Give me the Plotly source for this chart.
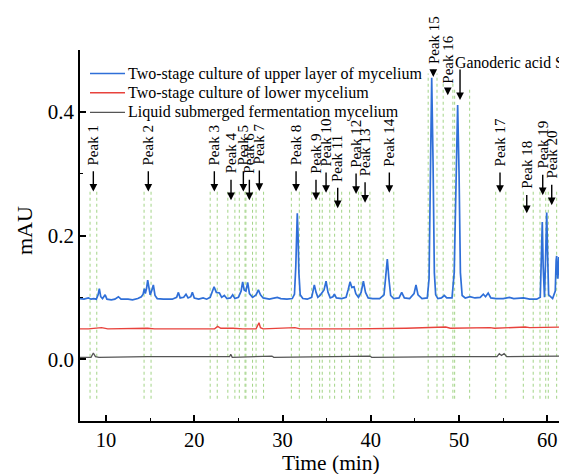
import plotly.graph_objects as go

# ---------------- data ----------------
upper_time = [7.0, 7.5, 8.0, 8.3, 8.6, 8.9, 9.1, 9.24, 9.4, 9.6, 9.9, 10.1, 10.6, 11.0, 11.4, 11.7,
              12.5, 13.0, 13.6, 14.0, 14.2, 14.34, 14.45, 14.6, 14.72, 14.85, 15.0, 15.2, 15.36, 15.55,
              15.8, 16.5, 17.5, 18.0, 18.2, 18.4, 18.8, 19.06, 19.3, 19.6, 19.78, 20.0, 20.5, 21.0,
              21.4, 21.8, 22.0, 22.24, 22.5, 22.85, 23.1, 23.4, 23.7, 24.1, 24.35, 24.6, 25.0, 25.3,
              25.48, 25.65, 25.85, 26.05, 26.25, 26.6, 27.0, 27.26, 27.5, 27.8, 28.5, 29.0, 29.4,
              29.8, 30.5, 31.1, 31.35, 31.5, 31.6, 31.67, 31.75, 31.85, 32.0, 32.3, 32.8, 33.3, 33.45,
              33.6, 33.8, 34.0, 34.3, 34.5, 34.7, 34.93, 35.15, 35.4, 35.7, 35.87, 36.1, 36.7, 37.2,
              37.45, 37.65, 37.85, 38.1, 38.3, 38.6, 38.9, 39.16, 39.4, 39.7, 40.2, 41.0, 41.5, 41.7,
              41.87, 42.05, 42.25, 42.6, 43.2, 43.5, 43.8, 44.4, 44.9, 45.12, 45.35, 45.8, 46.4, 46.6,
              46.75, 46.9, 47.05, 47.2, 47.35, 47.6, 48.0, 48.33, 48.6, 49.2, 49.45, 49.65, 49.84,
              50.0, 50.15, 50.35, 50.7, 51.24, 51.8, 52.4, 52.75, 53.0, 53.3, 53.6, 54.2, 55.0, 55.7,
              56.2, 57.3, 58.0, 58.8, 59.2, 59.33, 59.43, 59.53, 59.6, 59.68, 59.8, 59.93, 60.05,
              60.15, 60.6, 60.9, 61.0, 61.06, 61.13, 61.2, 61.3, 61.38, 61.5, 61.8, 62.3]
upper_mau = [0.098, 0.097, 0.099, 0.097, 0.098, 0.097, 0.104, 0.114, 0.101, 0.098, 0.104, 0.097, 0.096,
             0.097, 0.101, 0.097, 0.097, 0.096, 0.098, 0.101, 0.105, 0.114, 0.106, 0.115, 0.128, 0.113,
             0.104, 0.112, 0.120, 0.103, 0.098, 0.097, 0.097, 0.100, 0.108, 0.099, 0.100, 0.105, 0.099,
             0.101, 0.108, 0.099, 0.097, 0.099, 0.097, 0.100, 0.108, 0.117, 0.108, 0.107, 0.100, 0.103,
             0.098, 0.099, 0.104, 0.098, 0.100, 0.110, 0.125, 0.112, 0.110, 0.124, 0.106, 0.100, 0.104,
             0.112, 0.104, 0.099, 0.097, 0.099, 0.100, 0.098, 0.097, 0.098, 0.105, 0.150, 0.215, 0.236,
             0.205, 0.140, 0.104, 0.098, 0.097, 0.100, 0.110, 0.120, 0.108, 0.100, 0.104, 0.109, 0.112,
             0.126, 0.108, 0.099, 0.101, 0.105, 0.099, 0.098, 0.100, 0.113, 0.125, 0.116, 0.117, 0.106,
             0.100, 0.108, 0.126, 0.108, 0.099, 0.098, 0.098, 0.104, 0.135, 0.162, 0.130, 0.103, 0.098,
             0.099, 0.108, 0.099, 0.098, 0.106, 0.120, 0.104, 0.098, 0.099, 0.130, 0.300, 0.455, 0.320,
             0.140, 0.104, 0.098, 0.099, 0.103, 0.099, 0.099, 0.140, 0.310, 0.411, 0.300, 0.140, 0.103,
             0.099, 0.101, 0.099, 0.100, 0.105, 0.101, 0.107, 0.099, 0.098, 0.098, 0.100, 0.098, 0.099,
             0.097, 0.097, 0.100, 0.170, 0.222, 0.150, 0.105, 0.100, 0.160, 0.237, 0.160, 0.104, 0.098,
             0.110, 0.160, 0.167, 0.140, 0.130, 0.165, 0.150, 0.105, 0.102, 0.102]

lower_time = [7.0, 8.0, 9.5, 10.2, 14.7, 15.5, 20.0, 22.3, 22.65, 23.0, 24.4, 25.5, 27.0, 27.2, 27.33,
              27.5, 27.8, 31.4, 32.0, 38.0, 44.0, 48.5, 49.0, 53.5, 54.0, 57.5, 58.0, 62.3]
lower_mau = [0.049, 0.049, 0.051, 0.049, 0.050, 0.049, 0.049, 0.049, 0.053, 0.050, 0.050, 0.049, 0.049,
             0.054, 0.059, 0.051, 0.049, 0.051, 0.049, 0.049, 0.050, 0.052, 0.050, 0.051, 0.050, 0.052,
             0.051, 0.052]

liquid_time = [7.0, 8.3, 8.56, 8.8, 9.2, 14.7, 24.0, 24.13, 24.3, 28.8, 29.0, 39.9, 40.1, 49.3, 49.5,
               54.3, 54.56, 54.8, 55.1, 55.4, 62.0, 62.3]
liquid_mau = [0.003, 0.003, 0.010, 0.004, 0.003, 0.004, 0.004, 0.008, 0.003, 0.005, 0.003, 0.005, 0.003,
              0.005, 0.004, 0.004, 0.009, 0.006, 0.009, 0.004, 0.005, 0.005]

series_names = ["Two-stage culture of upper layer of mycelium",
                "Two-stage culture of lower mycelium",
                "Liquid submerged fermentation mycelium"]

peak_names = ["Peak 1", "Peak 2", "Peak 3", "Peak 4", "Peak 5", "Peak 6", "Peak 7", "Peak 8", "Peak 9",
              "Peak 10", "Peak 11", "Peak 12", "Peak 13", "Peak 14", "Peak 15", "Peak 16",
              "Ganoderic acid S", "Peak 17", "Peak 18", "Peak 19", "Peak 20"]
peak_times = [8.56, 14.79, 22.27, 24.16, 25.56, 26.24, 27.37, 31.53, 33.79, 34.93, 36.25, 38.33, 39.35,
              42.1, 47.08, 48.72, 50.11, 54.64, 57.67, 59.48, 60.5]
window_start = [8.19, 14.31, 21.8, 23.8, 25.1, 25.85, 27.0, 31.0, 33.3, 34.5, 35.9, 37.6, 38.9, 41.4,
                46.5, 48.2, 49.5, 54.15, 57.28, 59.17, 60.11]
window_end = [8.95, 15.10, 22.6, 24.6, 25.75, 26.6, 27.85, 31.9, 34.2, 35.35, 36.7, 38.6, 39.9, 42.6,
              47.5, 49.3, 51.2, 55.3, 58.4, 59.82, 61.06]

# ---------------- styling (placement of the peak markers) ----------------
arrow_tip = [0.271, 0.271, 0.271, 0.257, 0.271, 0.257, 0.272, 0.271, 0.257, 0.269, 0.244, 0.267, 0.253,
             0.269, 0.4565, 0.427, 0.419, 0.269, 0.236, 0.265, 0.249]
arrow_len = [0.0355] * 14 + [0.014, 0.011, 0.052] + [0.0355, 0.032, 0.0355, 0.0355]
window_top = [0.273] * 14 + [0.462, 0.448, 0.438] + [0.273] * 4
window_bottom = -0.064

FONT = "Liberation Serif, Times New Roman, serif"
colors = ["#2f6fd8", "#e8423c", "#555555"]
widths = [1.7, 1.4, 1.3]

# page body has an 8px margin: figure is sized/placed so the plot lands where the reference has it
W, H = 559, 466
ML, MR, MT, MB = 72, 0, 42, 53
PW, PH = W - ML - MR, H - MT - MB


def px_x(page_x):
    return (page_x - 8 - ML) / PW


def px_y(page_y):
    return (H - MB + 8 - page_y) / PH


fig = go.Figure()
for t, y, name, c, w in zip([upper_time, lower_time, liquid_time],
                            [upper_mau, lower_mau, liquid_mau],
                            series_names, colors, widths):
    fig.add_trace(go.Scatter(x=t, y=y, mode="lines", name=name, showlegend=False,
                             line=dict(color=c, width=w)))

shapes = []
for s, e, top in zip(window_start, window_end, window_top):
    for xv in (s, e):
        shapes.append(dict(type="line", xref="x", yref="y", x0=xv, x1=xv, y0=window_bottom, y1=top,
                           line=dict(color="#a3d487", width=1, dash="dot"), layer="below"))

annotations = []
for name, t, tip, ln in zip(peak_names, peak_times, arrow_tip, arrow_len):
    annotations.append(dict(x=t, y=tip, ax=t, ay=tip + ln, xref="x", yref="y", axref="x", ayref="y",
                            text="", showarrow=True, arrowhead=2, arrowsize=1.1, arrowwidth=1.4,
                            arrowcolor="black", standoff=0, startstandoff=0))
    if name.startswith("Peak"):
        annotations.append(dict(x=t, y=tip + ln + 0.004, xref="x", yref="y", text=name, textangle=-90,
                                showarrow=False, xanchor="center", yanchor="bottom",
                                font=dict(family=FONT, size=15, color="black")))
    else:
        annotations.append(dict(x=px_x(453), y=px_y(63), xref="paper", yref="paper", text=name,
                                showarrow=False, xanchor="left", yanchor="middle",
                                font=dict(family=FONT, size=15.8, color="black")))

# legend (drawn with the library's shapes and text so its rows match the reference spacing)
legend_rows = [73.5, 92.8, 112.3]
for name, c, w, ry in zip(series_names, colors, widths, legend_rows):
    shapes.append(dict(type="line", xref="paper", yref="paper", x0=px_x(90), x1=px_x(125),
                       y0=px_y(ry), y1=px_y(ry), line=dict(color=c, width=w)))
    annotations.append(dict(x=px_x(126), y=px_y(ry), xref="paper", yref="paper", text=name,
                            showarrow=False, xanchor="left", yanchor="middle",
                            font=dict(family=FONT, size=16, color="black")))

annotations.append(dict(x=px_x(331), y=0, xref="paper", yref="paper", yshift=-29, text="Time (min)",
                        showarrow=False, xanchor="center", yanchor="top", borderpad=0,
                        font=dict(family=FONT, size=21.5, color="black")))
annotations.append(dict(x=px_x(25), y=px_y(231), xref="paper", yref="paper", text="mAU", textangle=-90,
                        showarrow=False, xanchor="center", yanchor="middle",
                        font=dict(family=FONT, size=22, color="black")))

fig.update_layout(
    width=W, height=H,
    margin=dict(l=ML, r=MR, t=MT, b=MB),
    paper_bgcolor="white", plot_bgcolor="white",
    font=dict(family=FONT, color="black"),
    shapes=shapes, annotations=annotations,
    showlegend=False,
)
fig.update_xaxes(range=[7.05, 62.23], showline=True, linecolor="black", linewidth=1.5,
                 ticks="inside", ticklen=6, tickwidth=1.5, tickcolor="black", dtick=10, tick0=0,
                 minor=dict(ticks="inside", ticklen=3, tickwidth=1.3, dtick=5, tickcolor="black"),
                 showgrid=False, zeroline=False, tickfont=dict(family=FONT, size=20.5, color="black"))
fig.update_yaxes(range=[-0.1, 0.5], showline=True, linecolor="black", linewidth=1.5,
                 ticks="inside", ticklen=6, tickwidth=1.5, tickcolor="black", dtick=0.2, tick0=0,
                 tickformat=".1f",
                 minor=dict(ticks="inside", ticklen=3, tickwidth=1.3, dtick=0.1, tickcolor="black"),
                 showgrid=False, zeroline=False, tickfont=dict(family=FONT, size=21, color="black"))

fig.write_html("out.html")
